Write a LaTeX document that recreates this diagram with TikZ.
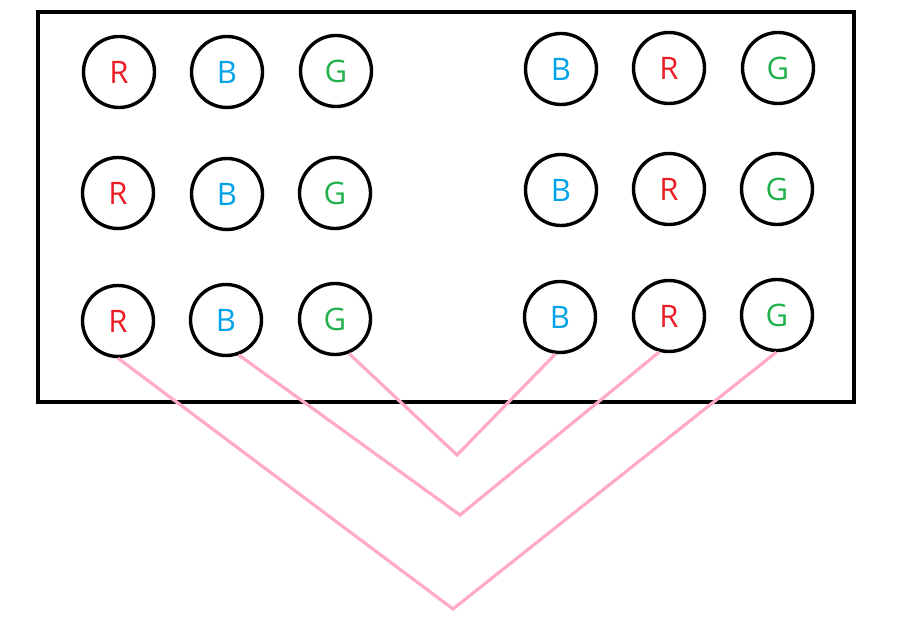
\documentclass[tikz,border=0pt]{standalone}
\usepackage{fontspec}
\setmainfont{Open Sans}
\definecolor{pr}{RGB}{237,28,36}
\definecolor{pb}{RGB}{0,162,232}
\definecolor{pg}{RGB}{34,177,76}
\definecolor{pk}{RGB}{255,170,200}
\begin{document}
\begin{tikzpicture}[x=1pt,y=-1pt,
  ball/.style={circle,draw=black,line width=3.4pt,minimum size=71pt,inner sep=0pt,font=\fontsize{31}{31}\selectfont},
  rb/.style={ball,text=pr},
  bb/.style={ball,text=pb},
  gb/.style={ball,text=pg},
  wire/.style={draw=pk,line width=3.2pt,line join=miter}]
\useasboundingbox (0,0) rectangle (902,644);
\node[draw=black,line width=4pt,minimum width=816pt,minimum height=389.5pt,inner sep=0pt,outer sep=0pt,anchor=north west] (frame) at (38,12) {};
% left group
\node[rb] (r1) at (119,72) {R};
\node[bb] (b1) at (227,72) {B};
\node[gb] (g1) at (336,71) {G};
\node[rb] (r2) at (118,193) {R};
\node[bb] (b2) at (227,194) {B};
\node[gb] (g2) at (335,193) {G};
\node[rb] (r3) at (118,321) {R};
\node[bb] (b3) at (226,320) {B};
\node[gb] (g3) at (335,319) {G};
% right group
\node[bb] (rb1) at (561,69) {B};
\node[rb] (rr1) at (669,68) {R};
\node[gb] (rg1) at (778,68) {G};
\node[bb] (rb2) at (561,190) {B};
\node[rb] (rr2) at (669,189) {R};
\node[gb] (rg2) at (777,189) {G};
\node[bb] (rb3) at (560,317) {B};
\node[rb] (rr3) at (669,316) {R};
\node[gb] (rg3) at (777,315) {G};
% vertices
\coordinate (v1) at (457,455);
\coordinate (v2) at (460,515);
\coordinate (v3) at (453,609);
\draw[wire] (g3.-68) -- (v1) -- (rb3.-97);
\draw[wire] (b3.-70) -- (v2) -- (rr3.-105);
\draw[wire] (r3.-90) -- (v3) -- (rg3.-91);
\end{tikzpicture}
\end{document}
